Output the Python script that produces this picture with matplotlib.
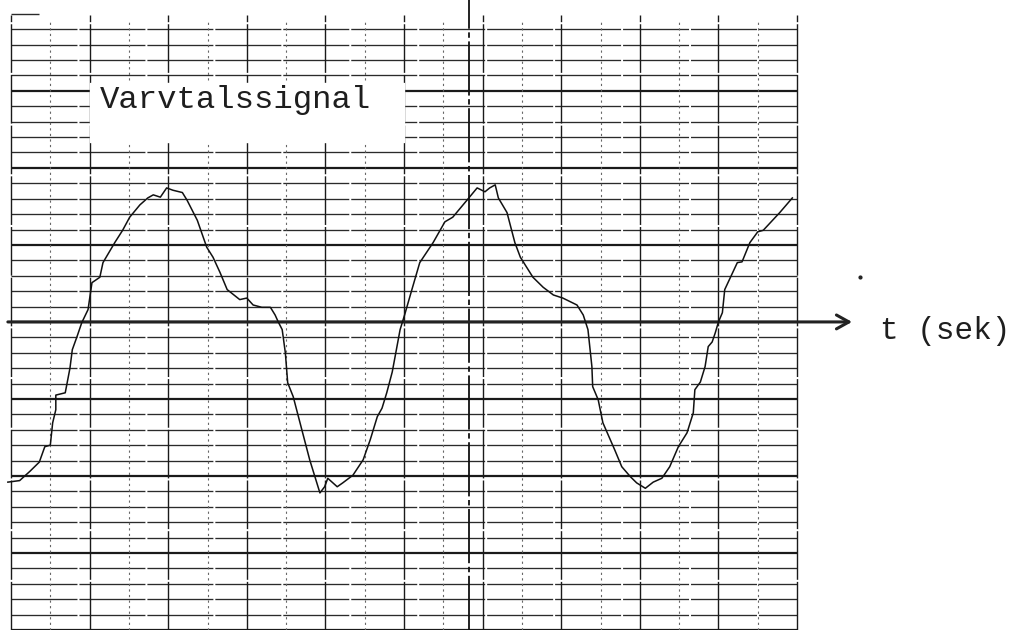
#!/usr/bin/env python3

import matplotlib
matplotlib.use('Agg')
import matplotlib.pyplot as plt
import numpy as np

# recorder trace, in grid divisions (x: time div, y: signal div, 0 = time axis)
t = [-0.04, 0.11, 0.24, 0.36, 0.43, 0.50, 0.53, 0.57, 0.57, 0.69, 0.75, 0.78,
     0.84, 0.90, 0.98, 1.03, 1.13, 1.17, 1.32, 1.42, 1.51, 1.64, 1.74, 1.81,
     1.90, 1.98, 2.06, 2.18, 2.24, 2.37, 2.49, 2.57, 2.66, 2.75, 2.91, 3.00,
     3.08, 3.19, 3.30, 3.36, 3.40, 3.45, 3.49, 3.52, 3.59, 3.70, 3.80, 3.93,
     3.99, 4.03, 4.15, 4.22, 4.35, 4.48, 4.57, 4.66, 4.72, 4.78, 4.85, 4.91,
     4.95, 5.01, 5.10, 5.20, 5.37, 5.52, 5.62, 5.80, 5.93, 6.03, 6.09, 6.16,
     6.20, 6.31, 6.41, 6.48, 6.56, 6.64, 6.77, 6.90, 7.02, 7.20, 7.28, 7.34,
     7.39, 7.40, 7.47, 7.53, 7.68, 7.77, 7.88, 7.96, 8.07, 8.17, 8.28, 8.38,
     8.49, 8.60, 8.68, 8.70, 8.77, 8.83, 8.87, 8.92, 8.96, 9.00, 9.05, 9.08,
     9.24, 9.30, 9.40, 9.50, 9.57, 9.78, 9.94]
signal = [-2.08, -2.06, -1.94, -1.82, -1.62, -1.60, -1.31, -1.14, -0.95, -0.92,
          -0.60, -0.36, -0.19, -0.01, 0.16, 0.51, 0.58, 0.77, 1.03, 1.19, 1.36,
          1.52, 1.61, 1.65, 1.62, 1.74, 1.71, 1.68, 1.58, 1.32, 0.97, 0.84,
          0.64, 0.42, 0.29, 0.31, 0.22, 0.19, 0.19, 0.09, 0.00, -0.10, -0.40,
          -0.79, -0.97, -1.40, -1.79, -2.22, -2.14, -2.03, -2.14, -2.09, -1.99,
          -1.79, -1.53, -1.23, -1.12, -0.92, -0.65, -0.32, -0.10, 0.10, 0.42,
          0.77, 1.03, 1.30, 1.36, 1.58, 1.74, 1.69, 1.74, 1.78, 1.61, 1.42,
          1.03, 0.84, 0.71, 0.58, 0.45, 0.35, 0.31, 0.22, 0.09, -0.10, -0.58,
          -0.84, -1.01, -1.31, -1.66, -1.88, -2.01, -2.09, -2.16, -2.08, -2.03,
          -1.88, -1.62, -1.44, -1.18, -0.88, -0.78, -0.58, -0.32, -0.26, -0.14,
          0.00, 0.12, 0.42, 0.77, 0.78, 1.03, 1.17, 1.19, 1.42, 1.61]

title = 'Varvtalssignal'
xlabel = 't (sek)'

fig = plt.figure(figsize=(10.14, 6.30), dpi=100)
ax = fig.add_axes([0, 0, 1, 1])
ax.set_xlim(-0.14, 12.76)
ax.set_ylim(-4.0, 4.18)
ax.axis('off')

# chart paper grid
for k in range(-20, 20):
    v = k * 0.2
    if k % 5 == 0:
        ax.hlines(v, 0, 10, color='#1a1a1a', lw=1.6, zorder=1)
    else:
        ax.hlines(v, 0, 10, color='#2a2a2a', lw=0.95, ls=(0, (50, 1.5)), zorder=1)
ax.hlines(4.0, 0, 0.35, color='#2a2a2a', lw=1.0, zorder=1)

for k in range(11):
    ax.vlines(k, -4.0, 3.99, color='#1a1a1a', lw=1.0, ls=(0, (35, 1.5)), zorder=1)
for k in range(10):
    ax.vlines(k + 0.5, -4.0, 3.9, color='#666666', lw=0.8, ls=(0, (2, 3)), zorder=1)
# marker line across the paper
ax.vlines(5.83, -4.0, 4.18, color='#111111', lw=1.3, ls=(0, (30, 2, 3, 2)), zorder=1)

# label pasted over the grid
ax.fill_between([1.0, 5.0], 2.34, 3.10, color='white', zorder=2)
ax.text(1.13, 2.78, title, family='Liberation Mono', fontsize=23.3,
        va='baseline', ha='left', color='#1e1e1e', zorder=3)

# time axis
ax.annotate('', xy=(10.70, 0), xytext=(-0.04, 0),
            arrowprops=dict(arrowstyle='->,head_length=0.9,head_width=0.5',
                            lw=2.2, color='#222222', shrinkA=0, shrinkB=0),
            zorder=4)
ax.text(11.06, -0.22, xlabel, family='Liberation Mono', fontsize=22.3,
        va='baseline', ha='left', color='#1e1e1e')
ax.plot([10.80], [0.58], marker='.', ms=4, color='#222222')

ax.plot(t, signal, color='#111111', lw=1.1, zorder=5)

plt.savefig('out.png', dpi=100)
